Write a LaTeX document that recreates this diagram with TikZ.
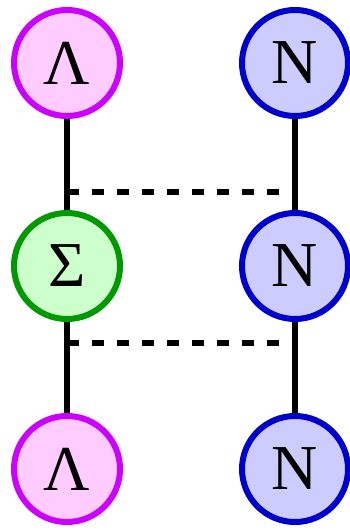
\documentclass[tikz,border=0pt]{standalone}
\usepackage{fontspec}
\setmainfont{Liberation Serif}
\definecolor{lamline}{HTML}{CC00FF}
\definecolor{lamfill}{HTML}{FFCCFF}
\definecolor{sigline}{HTML}{009900}
\definecolor{sigfill}{HTML}{CCFFCC}
\definecolor{nucline}{HTML}{0000CC}
\definecolor{nucfill}{HTML}{CCCCFF}
\tikzset{
  particle/.style={circle, minimum size=106pt, inner sep=0pt, line width=6pt, font=\fontsize{64}{64}\selectfont},
  lam/.style={particle, draw=lamline, fill=lamfill},
  sig/.style={particle, draw=sigline, fill=sigfill},
  nuc/.style={particle, draw=nucline, fill=nucfill},
  solidline/.style={line width=6pt, black},
  exchange/.style={line width=6pt, black, dash pattern=on 12pt off 13pt}
}
\begin{document}
\begin{tikzpicture}[x=1pt,y=-1pt]
\useasboundingbox (0,0) rectangle (350,532);
\node[lam] (L1) at (67,63) {Λ};
\node[nuc] (N1) at (295,63) {N};
\node[sig] (S)  at (67,266) {Σ};
\node[nuc] (N2) at (295,266) {N};
\node[lam] (L2) at (67,469) {Λ};
\node[nuc] (N3) at (295,469) {N};
\coordinate (d1a) at (67,192);
\coordinate (d1b) at (295,192);
\coordinate (d2a) at (67,343);
\coordinate (d2b) at (295,343);
\draw[exchange] (d1a) -- (d1b);
\draw[exchange] (d2a) -- (d2b);
\draw[solidline] (L1) -- (S);
\draw[solidline] (S) -- (L2);
\draw[solidline] (N1) -- (N2);
\draw[solidline] (N2) -- (N3);
\end{tikzpicture}
\end{document}
